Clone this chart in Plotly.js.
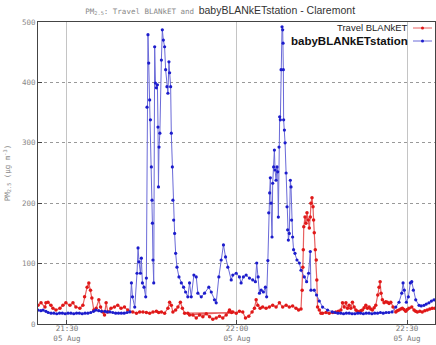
<!DOCTYPE html>
<html>
<head>
<meta charset="utf-8">
<script src="https://cdn.plot.ly/plotly-3.0.1.min.js"></script>
<style>html,body{margin:0;padding:0;background:#fff;}#chart{width:436px;height:345px;}</style>
</head>
<body>
<div id="chart"></div>
<script>
// minutes after 21:00 on 05 Aug, and PM2.5 (µg m^-3)
const travelMinutes = [24.90,25.43,26.13,26.30,26.66,27.18,27.54,28.06,28.77,29.30,29.82,30.53,31.06,31.58,32.29,32.82,33.11,33.57,33.87,34.17,34.40,34.75,35.16,35.63,35.93,36.33,36.63,36.91,37.21,37.79,38.39,38.97,39.55,40.15,40.73,41.61,42.26,42.84,43.42,44.02,44.60,45.18,45.78,46.19,46.66,47.24,47.82,48.12,48.42,48.70,49.18,49.58,50.01,50.36,50.76,51.34,59.03,51.64,52.22,52.82,53.40,53.98,54.58,55.16,55.74,56.34,56.92,57.50,58.10,58.56,58.68,59.26,59.86,60.44,61.02,61.50,62.08,62.67,63.08,63.38,63.66,64.08,64.54,65.14,65.72,66.30,66.90,67.48,68.06,68.66,69.24,69.82,70.42,70.87,71.30,71.50,71.62,71.70,71.78,72.00,72.17,72.35,72.58,72.76,72.93,73.05,73.23,73.41,73.51,73.64,73.81,73.99,74.08,74.22,74.52,74.81,75.10,75.70,76.27,76.90,77.45,77.90,78.33,78.62,78.91,79.21,79.50,79.79,80.09,80.37,80.67,80.97,81.25,81.55,81.85,82.13,82.43,82.73,83.01,83.31,83.60,83.89,84.20,84.49,84.84,85.07,85.25,85.42,85.65,85.95,86.25,86.53,86.83,87.13,87.54,88.01,88.30,88.59,88.90,89.17,89.47,89.77,90.05,90.35,90.83,91.23,91.52,91.81,92.25,92.69,93.13,93.57,94.01,94.45,94.92];
const travelValues  = [31,35,28,35,36,31,26,23,26,31,35,31,35,28,26,31,45,61,68,56,43,23,26,40,28,20,15,35,20,26,28,31,26,28,23,20,18,20,20,19,18,20,21,19,20,18,26,36,31,20,23,28,36,26,18,18,19,15,15,10,15,12,17,12,8,10,13,10,15,20,23,20,18,21,20,10,13,20,26,40,31,26,28,26,28,31,28,35,28,31,28,30,26,23,25,56,94,123,161,177,167,184,172,159,177,200,209,194,172,151,123,106,73,28,23,18,18,19,18,19,20,21,23,35,28,35,26,31,26,36,28,23,21,20,22,23,27,31,26,28,25,23,27,31,48,61,70,51,40,35,37,36,34,36,28,20,22,23,25,26,24,21,24,26,28,23,21,20,21,20,22,23,25,26,26];

const babyMinutes = [24.90,25.40,25.80,26.30,26.70,27.20,27.70,28.20,28.70,29.20,29.70,30.20,30.70,31.20,31.70,32.20,32.70,33.20,33.70,34.20,34.70,35.10,35.60,36.10,36.70,37.10,37.60,38.10,38.60,39.10,39.60,40.10,40.60,41.10,41.38,41.56,41.96,42.37,42.55,42.72,42.97,43.14,43.32,43.60,43.90,44.02,44.13,44.30,44.43,44.60,44.73,44.90,45.01,45.08,45.18,45.31,45.48,45.61,45.78,45.96,46.06,46.15,46.25,46.40,46.66,46.84,47.01,47.24,47.42,47.65,47.82,48.00,48.12,48.30,48.42,48.60,48.70,48.83,49.00,49.18,49.41,49.76,50.18,50.59,50.94,51.34,51.64,51.94,52.40,52.82,53.10,53.70,54.28,55.04,55.46,56.04,56.34,56.80,57.22,57.62,57.98,58.38,58.98,59.26,59.86,60.44,60.74,61.14,61.62,62.20,62.78,63.25,63.48,63.73,63.96,64.26,64.66,65.01,65.24,65.45,65.60,65.77,65.89,66.02,66.19,66.30,66.47,66.60,66.72,66.90,67.07,67.18,67.30,67.42,67.53,67.65,67.78,67.95,68.06,68.13,68.18,68.23,68.36,68.48,68.66,68.83,68.94,69.06,69.24,69.41,69.54,69.64,69.82,69.99,70.24,70.59,71.00,71.30,71.88,72.28,72.63,72.93,73.05,73.64,74.04,74.52,75.10,75.98,76.80,77.30,77.80,78.30,78.80,79.30,79.80,80.30,80.80,81.30,81.80,82.30,82.80,83.30,83.80,84.30,84.80,85.30,85.80,86.30,86.80,87.36,88.01,88.59,89.07,89.30,89.52,89.88,90.23,90.58,90.83,91.11,91.53,92.11,92.50,92.99,93.40,93.87,94.30,94.75];
const babyValues  = [23,22,23,21,19,18,18,17,18,18,17,18,18,17,18,18,17,18,18,19,21,23,22,21,21,20,20,19,18,18,18,18,19,20,68,45,28,84,126,103,84,109,68,61,45,76,359,479,432,371,338,260,205,167,106,68,459,399,391,396,326,227,293,316,437,487,470,459,421,393,382,434,416,393,316,260,205,172,150,117,94,78,68,61,53,45,68,45,81,78,51,45,51,61,53,40,35,78,106,131,111,94,73,81,84,78,68,78,81,76,73,70,101,78,51,56,53,61,45,105,184,217,242,200,144,233,260,288,255,238,260,252,177,293,343,338,421,492,487,465,421,338,321,300,250,194,156,139,150,238,227,172,144,123,117,106,101,89,78,70,84,120,56,56,48,38,28,23,20,19,18,18,17,18,18,17,17,18,18,17,18,18,17,18,18,19,18,19,19,20,28,36,51,68,56,36,45,68,70,56,40,31,30,31,33,35,38,40];

const yTicks = [0, 100, 200, 300, 400, 500];
const seriesNames = ['Travel BLANkET', 'babyBLANkETstation'];

function toTime(m) {
  const s = Math.round(m * 60);
  const hh = 21 + Math.floor(s / 3600);
  const mm = Math.floor((s % 3600) / 60);
  const ss = s % 60;
  const p = n => String(n).padStart(2, '0');
  return '2013-08-05 ' + p(hh) + ':' + p(mm) + ':' + p(ss);
}

const mono = 'DejaVu Sans Mono, monospace';
const sans = 'Liberation Sans, Arial, sans-serif';

const traces = [
  {
    x: travelMinutes.map(toTime), y: travelValues, name: seriesNames[0],
    type: 'scatter', mode: 'lines+markers',
    line: {color: '#e86060', width: 1.2},
    marker: {color: '#e01818', size: 3.5},
    showlegend: false
  },
  {
    x: babyMinutes.map(toTime), y: babyValues, name: seriesNames[1],
    type: 'scatter', mode: 'lines+markers',
    line: {color: '#6a6ad8', width: 1},
    marker: {color: '#1c1ccc', size: 3.2},
    showlegend: false
  }
];

// plot area in pixels: x 38..435, y 22..324
const L = 38, R = 435, T = 22, B = 324;
const px = v => (v - L) / (R - L);
const py = v => (B - v) / (B - T);

const legendRows = [28, 41];
const legendColors = ['#e01818', '#1c1ccc'];
const legendLine = ['#e86060', '#6a6ad8'];
const shapes = [];
const annotations = [];
legendRows.forEach((row, i) => {
  shapes.push({type: 'line', xref: 'paper', yref: 'paper', x0: px(413), x1: px(432), y0: py(row), y1: py(row),
    line: {color: legendLine[i], width: 1}});
  shapes.push({type: 'circle', xref: 'paper', yref: 'paper', x0: px(421), x1: px(424), y0: py(row + 1.5), y1: py(row - 1.5),
    fillcolor: legendColors[i], line: {width: 0}});
  annotations.push({xref: 'paper', yref: 'paper', x: px(410), y: py(row), xanchor: 'right', yanchor: 'middle',
    showarrow: false, text: i === 1 ? '<b>' + seriesNames[i] + '</b>' : seriesNames[i],
    font: {family: sans, size: i === 1 ? 11.5 : 9.5, color: i === 1 ? '#111' : '#222'}});
});

const layout = {
  width: 436, height: 345,
  margin: {l: L, r: 436 - R, t: T, b: 345 - B},
  paper_bgcolor: '#fff', plot_bgcolor: '#fff',
  title: {
    text: '<span style="font-family:DejaVu Sans Mono, monospace;font-size:7.5px;fill:#888">PM<sub>2.5</sub>: Travel BLANkET and </span><span style="font-family:Liberation Sans, Arial, sans-serif;font-size:10.5px;fill:#333">babyBLANkETstation - Claremont</span>',
    x: 0.505, xanchor: 'center', y: 1 - 10 / 345, yanchor: 'middle',
    font: {family: sans, size: 10, color: '#333'}
  },
  xaxis: {
    type: 'date',
    range: [toTime(24.90), toTime(94.93)],
    tickvals: [toTime(30), toTime(60), toTime(90)],
    tickformat: '%H:%M<br>%d %b',
    tickfont: {family: mono, size: 7.5, color: '#777'},
    ticks: 'inside', ticklen: 4, tickcolor: '#444',
    ticklabelstandoff: -3,
    showgrid: true, gridcolor: '#c4c4c4', gridwidth: 1,
    showline: true, linecolor: '#444', linewidth: 1, mirror: true,
    zeroline: false, automargin: false
  },
  yaxis: {
    range: [0, 500],
    tickvals: yTicks,
    tickfont: {family: mono, size: 7.5, color: '#888'},
    ticks: 'inside', ticklen: 4, tickcolor: '#444',
    showgrid: true, gridcolor: '#999', griddash: 'dot', gridwidth: 1,
    showline: true, linecolor: '#444', linewidth: 1, mirror: true,
    zeroline: false, automargin: false,
    title: {text: 'PM<sub>2.5</sub> (μg m<sup>-3</sup>)', font: {family: mono, size: 7.5, color: '#888'}, standoff: 10}
  },
  showlegend: false,
  shapes: shapes,
  annotations: annotations
};

Plotly.newPlot('chart', traces, layout, {displayModeBar: false, staticPlot: true});
</script>
</body>
</html>
